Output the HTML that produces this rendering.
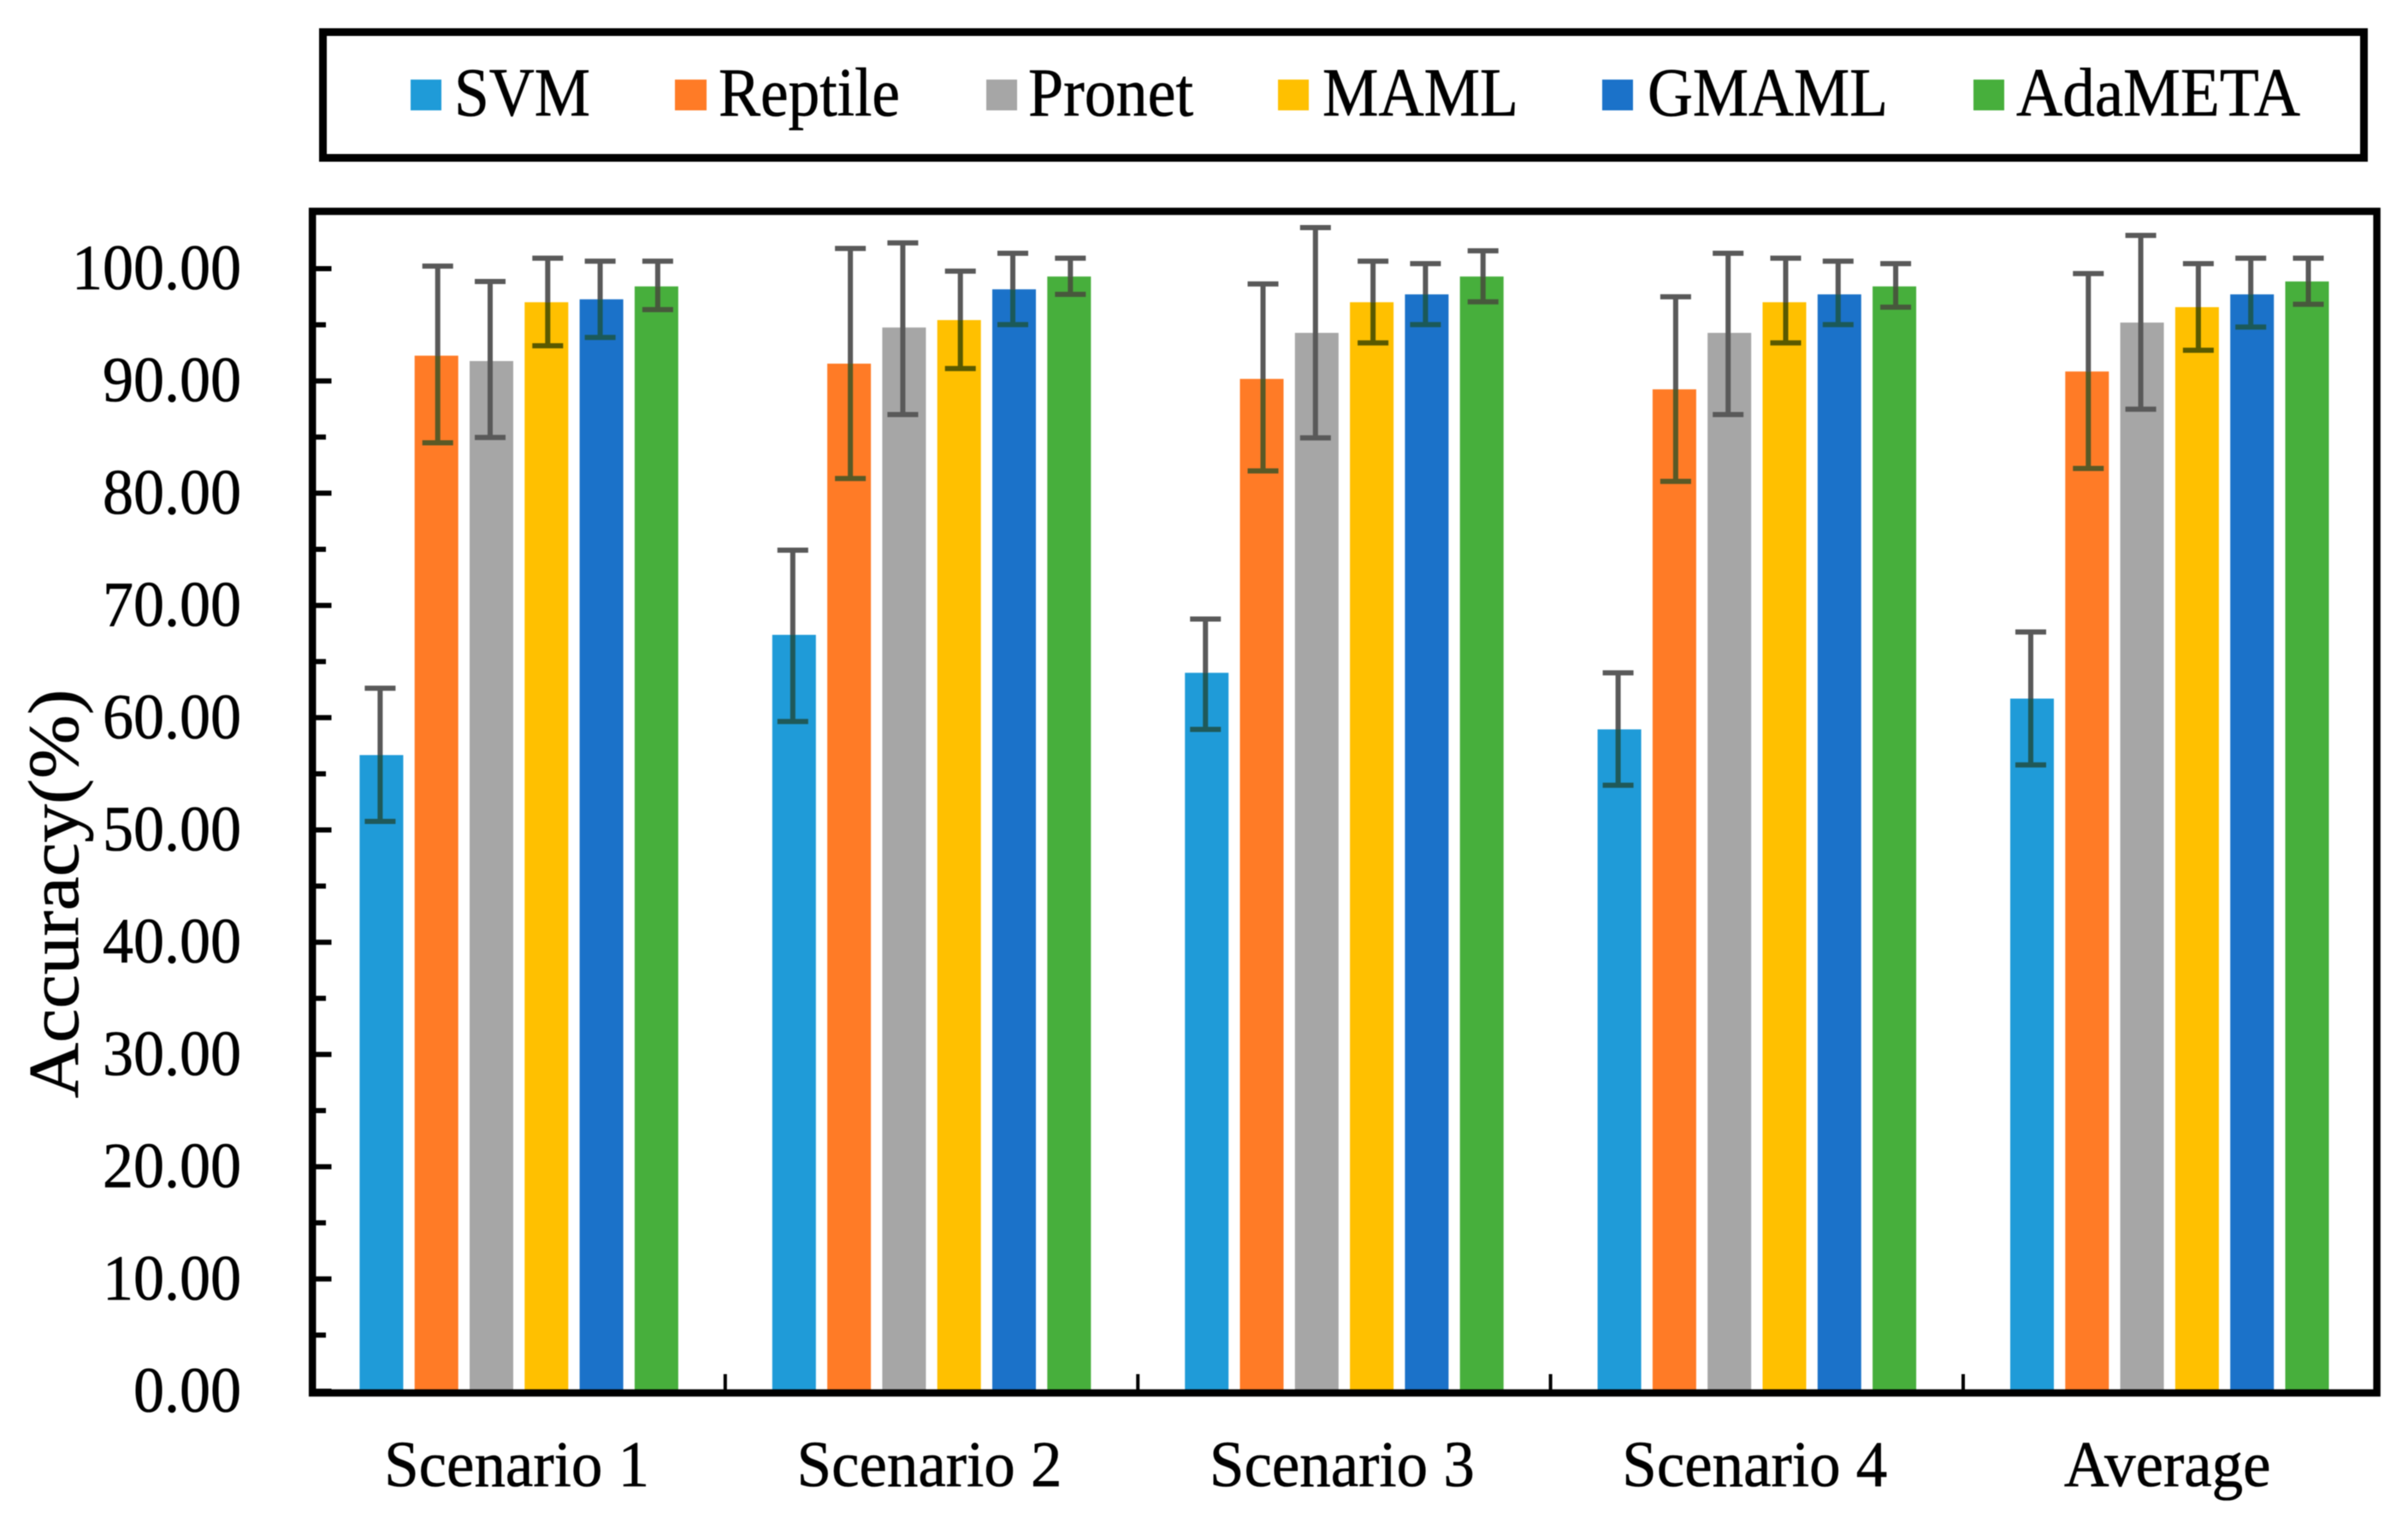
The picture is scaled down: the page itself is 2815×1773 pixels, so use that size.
<!DOCTYPE html>
<html lang="en">
<head>
<meta charset="utf-8">
<title>Accuracy comparison chart</title>
<style>
  html, body { margin: 0; padding: 0; background: #fff; width: 2815px; height: 1773px; overflow: hidden; }
  svg { display: block; font-family: "Liberation Serif", serif; fill: #000; filter: blur(0.6px); }
  text { stroke: #000; stroke-width: 0.6px; }
  .s0 { fill: #1f9bd8; }
  .s1 { fill: #ff7b26; }
  .s2 { fill: #a6a6a6; }
  .s3 { fill: #ffc000; }
  .s4 { fill: #1b72c9; }
  .s5 { fill: #47af3c; }
  .err { stroke: #595959; stroke-width: 6; fill: none; mix-blend-mode: darken; }
  .frame { fill: none; stroke: #000; stroke-width: 8.5; }
  .tick { stroke: #000; fill: none; }
  .legend-text { font-size: 80px; }
  .tick-label { font-size: 75px; }
  .cat-label { font-size: 76px; }
  .axis-title { font-size: 84px; }
</style>
</head>
<body>
<svg id="chart" xmlns="http://www.w3.org/2000/svg" width="2815" height="1773" viewBox="0 0 2815 1773">
  <rect x="0" y="0" width="2815" height="1773" fill="#fff"/>
  <g id="bars"></g>
  <g id="errors"></g>
  <rect class="frame" x="365.2" y="247" width="2413.4" height="1381"/>
  <g id="ticks"></g>
  <g id="labels"></g>
  <text class="axis-title" transform="translate(91 1044.5) rotate(-90)" text-anchor="middle" textLength="478" lengthAdjust="spacingAndGlyphs">Accuracy(%)</text>

  <g>
    <rect class="frame" style="stroke-width:9" x="377.5" y="37.5" width="2386" height="147"/>
    <g>
      <rect class="s0" x="480" y="93" width="36" height="36"/>
      <text class="legend-text" x="531" y="135" textLength="159" lengthAdjust="spacingAndGlyphs">SVM</text>
    </g>
    <g>
      <rect class="s1" x="789" y="93" width="37" height="36"/>
      <text class="legend-text" x="840" y="135" textLength="212" lengthAdjust="spacingAndGlyphs">Reptile</text>
    </g>
    <g>
      <rect class="s2" x="1153" y="93" width="36" height="36"/>
      <text class="legend-text" x="1202" y="135" textLength="193" lengthAdjust="spacingAndGlyphs">Pronet</text>
    </g>
    <g>
      <rect class="s3" x="1494" y="93" width="36" height="36"/>
      <text class="legend-text" x="1546" y="135" textLength="229" lengthAdjust="spacingAndGlyphs">MAML</text>
    </g>
    <g>
      <rect class="s4" x="1873" y="93" width="36" height="36"/>
      <text class="legend-text" x="1926" y="135" textLength="281" lengthAdjust="spacingAndGlyphs">GMAML</text>
    </g>
    <g>
      <rect class="s5" x="2307" y="93" width="36" height="36"/>
      <text class="legend-text" x="2357" y="135" textLength="332" lengthAdjust="spacingAndGlyphs">AdaMETA</text>
    </g>
  </g>
</svg>

<script>
const categories = ['Scenario 1', 'Scenario 2', 'Scenario 3', 'Scenario 4', 'Average'];
const yTickLabels = ['0.00', '10.00', '20.00', '30.00', '40.00', '50.00', '60.00', '70.00', '80.00', '90.00', '100.00'];

const svmValues = [56.67, 67.38, 64.0, 58.96, 61.7];
const svmUpper = [62.62, 74.92, 68.79, 64.0, 67.64];
const svmLower = [50.76, 59.66, 58.96, 53.98, 55.79];

const reptileValues = [92.25, 91.54, 90.18, 89.25, 90.84];
const reptileUpper = [100.23, 101.8, 98.64, 97.49, 99.56];
const reptileLower = [84.49, 81.31, 81.98, 81.05, 82.2];

const pronetValues = [91.77, 94.76, 94.28, 94.28, 95.2];
const pronetUpper = [98.86, 102.3, 103.66, 101.37, 102.96];
const pronetLower = [84.97, 87.0, 84.93, 87.0, 87.48];

const mamlValues = [97.01, 95.42, 97.01, 97.01, 96.57];
const mamlUpper = [100.93, 99.78, 100.67, 100.93, 100.45];
const mamlLower = [93.13, 91.1, 93.39, 93.39, 92.73];

const gmamlValues = [97.27, 98.16, 97.71, 97.71, 97.71];
const gmamlUpper = [100.67, 101.37, 100.45, 100.67, 100.93];
const gmamlLower = [93.87, 95.02, 95.02, 95.02, 94.8];

const adametaValues = [98.42, 99.3, 99.3, 98.42, 98.86];
const adametaUpper = [100.67, 100.93, 101.59, 100.45, 100.93];
const adametaLower = [96.35, 97.71, 97.05, 96.57, 96.83];

const seriesNames = ['svm', 'reptile', 'pronet', 'maml', 'gmaml', 'adameta'];
const seriesValues = [svmValues, reptileValues, pronetValues, mamlValues, gmamlValues, adametaValues];
const seriesUpper = [svmUpper, reptileUpper, pronetUpper, mamlUpper, gmamlUpper, adametaUpper];
const seriesLower = [svmLower, reptileLower, pronetLower, mamlLower, gmamlLower, adametaLower];

const NS = 'http://www.w3.org/2000/svg';
const PLOT_LEFT = 365.4;
const GROUP_WIDTH = 482.4;
const BAR_OFFSET = 55;
const BAR_STEP = 64.3;
const BAR_WIDTH = 51;
const CAP_WIDTH = 36;
const Y_ZERO = 1626;
const Y_PER_UNIT = 13.12;

function yScale(v) { return Y_ZERO - v * Y_PER_UNIT; }
function barLeft(groupIndex, seriesIndex) {
  return PLOT_LEFT + GROUP_WIDTH * groupIndex + BAR_OFFSET + BAR_STEP * seriesIndex;
}
function make(tag, parent, attrs) {
  const el = document.createElementNS(NS, tag);
  for (const k in attrs) el.setAttribute(k, attrs[k]);
  parent.appendChild(el);
  return el;
}
function fitWidth(el, factor) {
  el.setAttribute('textLength', (el.getComputedTextLength() * factor).toFixed(1));
  el.setAttribute('lengthAdjust', 'spacingAndGlyphs');
}

const barsLayer = document.getElementById('bars');
const errorsLayer = document.getElementById('errors');
const ticksLayer = document.getElementById('ticks');
const labelsLayer = document.getElementById('labels');

categories.forEach(function (cat, g) {
  seriesNames.forEach(function (name, s) {
    const x = barLeft(g, s);
    const top = yScale(seriesValues[s][g]);
    const bar = make('rect', barsLayer, { class: 's' + s, x: x, y: top, width: BAR_WIDTH, height: Y_ZERO - top });
    
    

    const cx = x + BAR_WIDTH / 2 + (s % 2 ? 1.5 : -1.5);
    const yUp = yScale(seriesUpper[s][g]);
    const yLow = yScale(seriesLower[s][g]);
    const d = 'M' + cx + ' ' + yUp + 'V' + yLow +
      'M' + (cx - CAP_WIDTH / 2) + ' ' + yUp + 'H' + (cx + CAP_WIDTH / 2) +
      'M' + (cx - CAP_WIDTH / 2) + ' ' + yLow + 'H' + (cx + CAP_WIDTH / 2);
    const err = make('path', errorsLayer, { class: 'err', d: d });
    
    
  });

  const label = make('text', labelsLayer, { class: 'cat-label', x: PLOT_LEFT + GROUP_WIDTH * (g + 0.5) - 2.5, y: 1737, 'text-anchor': 'middle' });
  label.textContent = cat;
  
  
  fitWidth(label, 0.96);

  if (g > 0) {
    const tx = PLOT_LEFT + GROUP_WIDTH * g;
    const xt = make('line', ticksLayer, { class: 'tick', x1: tx, x2: tx, y1: 1606, y2: 1626, 'stroke-width': 4 });
    
    
  }
});

yTickLabels.forEach(function (text, i) {
  const value = parseFloat(text);
  const y = yScale(value);
  const major = make('line', ticksLayer, { class: 'tick', x1: 368, x2: 387.5, y1: y, y2: y, 'stroke-width': 6 });
  
  

  if (i < yTickLabels.length - 1) {
    const nextValue = parseFloat(yTickLabels[i + 1]);
    const midY = yScale((value + nextValue) / 2);
    const minor = make('line', ticksLayer, { class: 'tick', x1: 368, x2: 381, y1: midY, y2: midY, 'stroke-width': 6 });
    
    
  }

  const label = make('text', labelsLayer, { class: 'tick-label', x: 282, y: y + 24, 'text-anchor': 'end' });
  label.textContent = text;
  
  
  fitWidth(label, 0.96);
});
</script>
</body>
</html>
